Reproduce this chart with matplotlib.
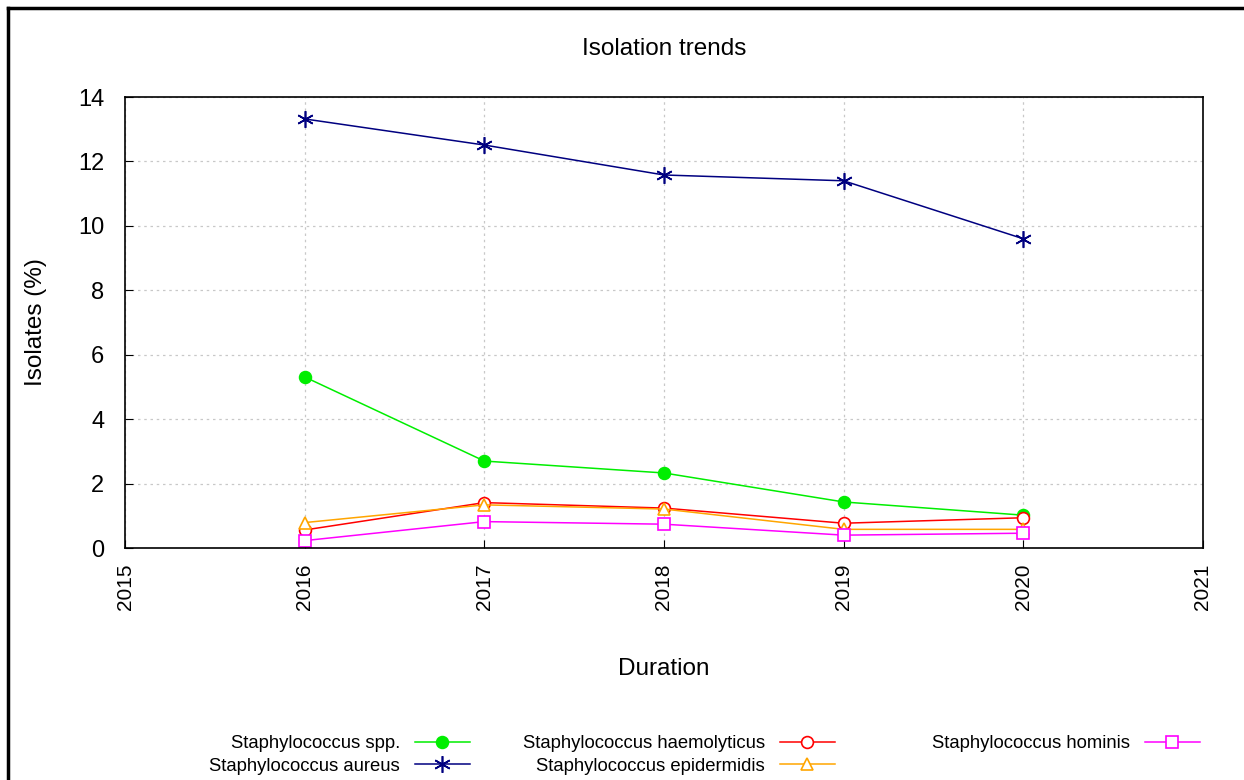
import matplotlib.pyplot as plt
from matplotlib.lines import Line2D

plt.rcParams['font.family'] = ['Liberation Sans', 'DejaVu Sans']

years = [2016, 2017, 2018, 2019, 2020]
spp = [5.31, 2.70, 2.33, 1.43, 1.02]
aureus = [13.32, 12.51, 11.58, 11.40, 9.60]
haemolyticus = [0.56, 1.41, 1.24, 0.77, 0.94]
epidermidis = [0.79, 1.34, 1.21, 0.58, 0.58]
hominis = [0.23, 0.82, 0.74, 0.40, 0.46]

fig = plt.figure(figsize=(12.44, 7.80), dpi=100)
ax = fig.add_axes([0.1005, 0.2974, 0.8665, 0.5782])

# series: label, values, colour, marker, filled
series = [
    ('Staphylococcus spp.', spp, '#00ee00', 'o', True),
    ('Staphylococcus aureus', aureus, '#000080', (6, 2, 0), True),
    ('Staphylococcus haemolyticus', haemolyticus, '#ff0000', 'o', False),
    ('Staphylococcus epidermidis', epidermidis, '#ffa500', '^', False),
    ('Staphylococcus hominis', hominis, '#ff00ff', 's', False),
]

lines = []
for label, vals, col, mk, filled in series:
    ms = 12 if mk == (6, 2, 0) else 8.5
    ln, = ax.plot(years, vals, color=col, lw=1.1, marker=mk, markersize=ms,
                  markerfacecolor=col if filled else 'white',
                  markeredgecolor=col, markeredgewidth=1.2, label=label)
    lines.append(ln)

ax.set_xlim(2015, 2021)
ax.set_ylim(0, 14)
ax.set_xticks(range(2015, 2022))
ax.set_xticklabels([str(y) for y in range(2015, 2022)], rotation=90)
ax.set_yticks(range(0, 15, 2))
ax.tick_params(direction='in', length=6)
ax.tick_params(axis='x', labelsize=15, pad=11)
ax.tick_params(axis='y', labelsize=17, pad=15)
ax.grid(True, color='#c8c8c8', linestyle=(0, (2, 3)), lw=0.9)
for sp in ax.spines.values():
    sp.set_linewidth(1.2)

ax.set_title('Isolation trends', fontsize=17.5, pad=30)
ax.set_xlabel('Duration', fontsize=17.5, labelpad=35)
ax.set_ylabel('Isolates (%)', fontsize=17.5, labelpad=22)

# gnuplot style key: three fixed columns, text right aligned before the sample
columns = [(lines[0:2], 470), (lines[2:4], 835), (lines[4:5], 1200)]
for handles, xr in columns:
    leg = fig.legend(handles=handles, loc='upper right', bbox_to_anchor=(xr / 1244, 1 - 735 / 780),
                     frameon=False, markerfirst=False, fontsize=13.3, borderpad=0, borderaxespad=0,
                     handlelength=3.0, labelspacing=0.3, handletextpad=0.8)

# frame lines along top and left edge of the picture
fig.add_artist(Line2D([8 / 1244, 1], [1 - 8 / 780, 1 - 8 / 780], color='black', lw=2.5,
                      transform=fig.transFigure))
fig.add_artist(Line2D([8 / 1244, 8 / 1244], [0, 1 - 8 / 780], color='black', lw=2.5,
                      transform=fig.transFigure))

fig.savefig('out.png', dpi=100)
